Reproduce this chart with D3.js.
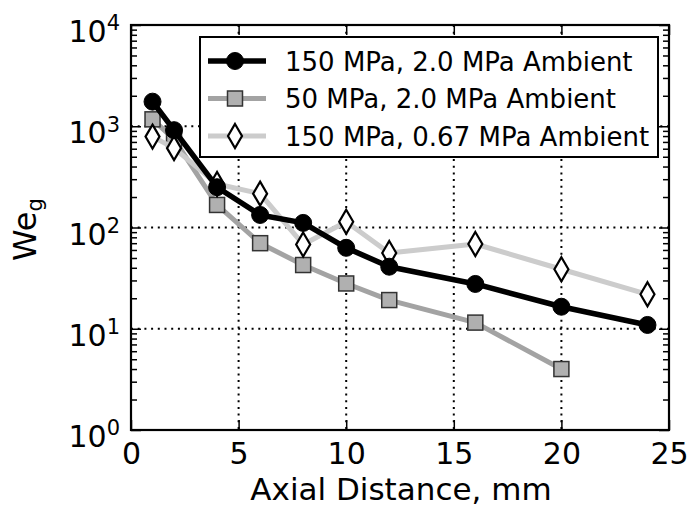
<!DOCTYPE html>
<html>
<head>
<meta charset="utf-8">
<script src="https://cdn.jsdelivr.net/npm/d3@7/dist/d3.min.js"></script>
<style>
  html, body { margin: 0; padding: 0; background: #fff; }
  svg { display: block; font-family: "DejaVu Sans", sans-serif; }
</style>
</head>
<body>
<svg id="chart" width="692" height="509"></svg>
<script>
// ---- data ----
const distanceBlack = [1, 2, 4, 6, 8, 10, 12, 16, 20, 24];
const weBlack = [1750, 915, 250, 133, 111, 63, 41, 27.7, 16.5, 10.9];

const distanceSquare = [1, 2, 4, 6, 8, 10, 12, 16, 20];
const weSquare = [1170, 745, 167, 70, 42.6, 28, 19.2, 11.5, 4.0];

const distanceDiamond = [1, 2, 4, 6, 8, 10, 12, 16, 20, 24];
const weDiamond = [790, 608, 269, 216, 68, 114, 56, 68.7, 38.7, 21.9];

const seriesNames = ["150 MPa, 2.0 MPa Ambient", "50 MPa, 2.0 MPa Ambient", "150 MPa, 0.67 MPa Ambient"];
const xTicks = [0, 5, 10, 15, 20, 25];
const yTickExponents = [0, 1, 2, 3, 4];
const xLabel = "Axial Distance, mm";

// ---- layout ----
const svg = d3.select("#chart");
const L = 131, R = 669, T = 25, B = 430;
const x = d3.scaleLinear().domain([0, 25]).range([L, R]);
const y = d3.scaleLog().domain([1, 10000]).range([B, T]);

const yMajor = yTickExponents.map(e => Math.pow(10, e));
const yMinor = [];
for (let e = 0; e < 4; e++) for (let m = 2; m <= 9; m++) yMinor.push(m * Math.pow(10, e));

// grid (dotted)
const grid = svg.append("g");
grid.selectAll("line.gx").data(xTicks.slice(1, -1)).join("line")
  .attr("x1", d => x(d)).attr("x2", d => x(d)).attr("y1", T).attr("y2", B)
  .attr("stroke", "#000").attr("stroke-width", 2).attr("stroke-dasharray", "2,4.7");
grid.selectAll("line.gy").data(yMajor.slice(1, -1)).join("line")
  .attr("y1", d => y(d)).attr("y2", d => y(d)).attr("x1", L).attr("x2", R)
  .attr("stroke", "#000").attr("stroke-width", 2).attr("stroke-dasharray", "2,4.7");

// axes
const tickFont = 30;
const gx = svg.append("g").attr("transform", `translate(0,${B})`)
  .call(d3.axisBottom(x).tickValues(xTicks).tickSizeInner(-10).tickSizeOuter(0).tickPadding(13).tickFormat(d3.format("d")));
const gxTop = svg.append("g").attr("transform", `translate(0,${T})`)
  .call(d3.axisTop(x).tickValues(xTicks).tickSizeInner(-10).tickSizeOuter(0).tickFormat(""));
const gy = svg.append("g").attr("transform", `translate(${L},0)`)
  .call(d3.axisLeft(y).tickValues(yMajor).tickSizeInner(-10).tickSizeOuter(0).tickPadding(28).tickFormat(() => ""));
const gyMinor = svg.append("g").attr("transform", `translate(${L},0)`)
  .call(d3.axisLeft(y).tickValues(yMinor).tickSizeInner(-6).tickSizeOuter(0).tickFormat(""));
const gyR = svg.append("g").attr("transform", `translate(${R},0)`)
  .call(d3.axisRight(y).tickValues(yMajor).tickSizeInner(-10).tickSizeOuter(0).tickFormat(""));
const gyRMinor = svg.append("g").attr("transform", `translate(${R},0)`)
  .call(d3.axisRight(y).tickValues(yMinor).tickSizeInner(-6).tickSizeOuter(0).tickFormat(""));

[gx, gxTop, gy, gyMinor, gyR, gyRMinor].forEach(g => {
  g.select(".domain").remove();
  g.selectAll(".tick line").attr("stroke", "#000").attr("stroke-width", 1.5);
});

gx.selectAll(".tick text").attr("font-size", tickFont).attr("fill", "#000")
  .attr("font-family", "DejaVu Sans");

// y tick labels 10^n
gy.selectAll(".tick").each(function(d) {
  const t = d3.select(this).select("text");
  t.text(null).attr("font-size", tickFont).attr("fill", "#000").attr("font-family", "DejaVu Sans")
    .attr("dy", "0.55em").attr("x", -11).attr("text-anchor", "end");
  t.append("tspan").text("10");
  t.append("tspan").attr("dy", "-0.55em").attr("font-size", 21).text(Math.round(Math.log10(d)));
});

// frame
svg.append("rect").attr("x", L).attr("y", T).attr("width", R - L).attr("height", B - T)
  .attr("fill", "none").attr("stroke", "#000").attr("stroke-width", 2.2);

// axis labels
svg.append("text").attr("x", (L + R) / 2 + 1).attr("y", 500).attr("text-anchor", "middle")
  .attr("font-size", 31).attr("fill", "#000").text(xLabel);
const yl = svg.append("text").attr("transform", `translate(36,${(T + B) / 2 + 2}) rotate(-90)`)
  .attr("text-anchor", "middle").attr("font-size", 32).attr("fill", "#000");
yl.append("tspan").text("We");
yl.append("tspan").attr("font-size", 21).attr("dy", "0.3em").text("g");

// series
const series = [
  { xs: distanceSquare, ys: weSquare, line: "#a3a3a3", marker: "square", fill: "#b0b0b0", stroke: "#333", w: 5 },
  { xs: distanceDiamond, ys: weDiamond, line: "#cccccc", marker: "diamond", fill: "#fff", stroke: "#000", w: 5 },
  { xs: distanceBlack, ys: weBlack, line: "#000", marker: "circle", fill: "#000", stroke: "#000", w: 5.5 }
];
const lineGen = d3.line().x(d => x(d[0])).y(d => y(d[1]));

function drawMarker(g, type, cx, cy, s) {
  if (type === "circle") {
    g.append("circle").attr("cx", cx).attr("cy", cy).attr("r", 8.5).attr("fill", s.fill).attr("stroke", s.stroke);
  } else if (type === "square") {
    g.append("rect").attr("x", cx - 7.5).attr("y", cy - 7.5).attr("width", 15).attr("height", 15)
      .attr("fill", s.fill).attr("stroke", s.stroke).attr("stroke-width", 1.5);
  } else {
    g.append("path").attr("d", `M${cx},${cy - 12}L${cx + 7},${cy}L${cx},${cy + 12}L${cx - 7},${cy}Z`)
      .attr("fill", s.fill).attr("stroke", s.stroke).attr("stroke-width", 2.2);
  }
}

const plot = svg.append("g");
series.forEach(s => {
  const pts = s.xs.map((v, i) => [v, s.ys[i]]);
  plot.append("path").attr("d", lineGen(pts)).attr("fill", "none")
    .attr("stroke", s.line).attr("stroke-width", s.w).attr("stroke-linejoin", "round");
  pts.forEach(p => drawMarker(plot, s.marker, x(p[0]), y(p[1]), s));
});

// legend
const lg = svg.append("g");
lg.append("rect").attr("x", 200).attr("y", 37).attr("width", 458).attr("height", 120)
  .attr("fill", "#fff").attr("stroke", "#000").attr("stroke-width", 2);
const legendOrder = [series[2], series[0], series[1]];
legendOrder.forEach((s, i) => {
  const ly = 61 + i * 37.5;
  lg.append("line").attr("x1", 208).attr("x2", 266).attr("y1", ly).attr("y2", ly)
    .attr("stroke", s.line).attr("stroke-width", s.w);
  drawMarker(lg, s.marker, 235, ly, s);
  lg.append("text").attr("x", 285).attr("y", ly + 9.5).attr("font-size", 26).attr("fill", "#000")
    .text(seriesNames[i]);
});
</script>
</body>
</html>
